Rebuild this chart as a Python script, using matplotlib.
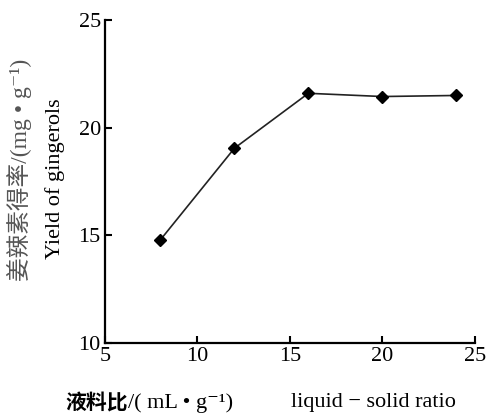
import matplotlib.pyplot as plt

# liquid-solid ratio vs. gingerol yield
ratio = [8, 12, 16, 20, 24]
yield_mg = [14.8, 19.05, 21.6, 21.45, 21.5]
x_ticks = [5, 10, 15, 20, 25]
y_ticks = [10, 15, 20, 25]

serif = ['Liberation Serif', 'Noto Sans CJK SC', 'DejaVu Serif']
plt.rcParams['font.family'] = serif

fig = plt.figure(figsize=(4.86, 4.18), dpi=100)
ax = fig.add_axes([0.216, 0.179, 0.761, 0.773])

ax.plot(ratio, yield_mg, color='#222222', lw=1.2, marker='D',
        markersize=6.5, markerfacecolor='black', markeredgecolor='black')

ax.set_xlim(5, 25)
ax.set_ylim(10, 25)
ax.set_xticks(x_ticks)
ax.set_yticks(y_ticks)
ax.tick_params(direction='in', length=5, width=1.5, labelsize=16, pad=3)
for side in ['top', 'right']:
    ax.spines[side].set_visible(False)
for side in ['left', 'bottom']:
    ax.spines[side].set_linewidth(1.6)

# y axis label, two lines
fig.text(0.041, 0.593, '姜辣素得率/(mg • g⁻¹)', rotation=90, ha='center',
         va='center', fontsize=17, color='#555555')
fig.text(0.113, 0.572, 'Yield of gingerols', rotation=90, ha='center',
         va='center', fontsize=16)

# x axis label
fig.text(0.134, 0.036, '液料比', family=['Noto Sans CJK SC'],
         fontweight='bold', fontsize=15, ha='left', va='center')
fig.text(0.263, 0.036, '/( mL • g⁻¹)', fontsize=16, ha='left', va='center')
fig.text(0.599, 0.036, 'liquid − solid ratio', fontsize=16,
         ha='left', va='center')

fig.savefig('out.png', dpi=100)
